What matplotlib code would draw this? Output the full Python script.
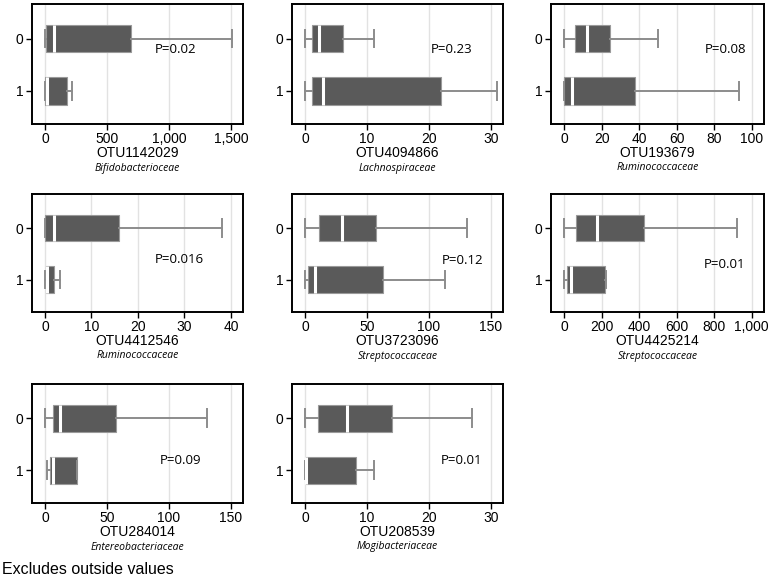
import matplotlib
matplotlib.use("Agg")
import matplotlib.pyplot as plt
from matplotlib.ticker import FuncFormatter

# Datos de cada panel (grupo 0, grupo 1): whislo, q1, med, q3, whishi
otus = ["OTU1142029", "OTU4094866", "OTU193679", "OTU4412546",
        "OTU3723096", "OTU4425214", "OTU284014", "OTU208539"]
families = ["Bifidobacterioceae", "Lachnospiraceae", "Ruminococcaceae", "Ruminococcaceae",
            "Streptococcaceae", "Streptococcaceae", "Entereobacteriaceae", "Mogibacteriaceae"]
p_values = ["P=0.02", "P=0.23", "P=0.08", "P=0.016", "P=0.12", "P=0.01", "P=0.09", "P=0.01"]
p_pos = [(1050, 0.21), (23.6, 0.21), (86, 0.21), (28.8, 0.62),
         (127, 0.64), (857, 0.70), (109, 0.81), (25.2, 0.82)]
tick_max = [1500, 30, 100, 40, 150, 1000, 150, 30]
tick_step = [500, 10, 20, 10, 50, 200, 50, 10]

whislo0 = [0, 0, 0, 0, 0, 0, 0, 0]
q1_0 = [5, 1.1, 5.9, 0, 11.3, 63, 6.2, 2.15]
med0 = [75, 2.2, 12.2, 2.0, 29.5, 175, 12, 6.7]
q3_0 = [690, 6.2, 24.7, 16, 57, 423, 57, 14.1]
whishi0 = [1510, 11.1, 50, 38, 131, 919, 131, 27]

whislo1 = [0, 0, 0, 0, 0, 0, 2, 0]
q1_1 = [3, 1.1, 0, 0.2, 2.2, 14, 4, 0.15]
med1 = [15, 2.9, 4.1, 0.5, 8, 36, 6.7, 0.1]
q3_1 = [175, 22, 38, 2.0, 62.6, 220, 25.5, 8.2]
whishi1 = [220, 31, 93, 3.2, 113, 222, 25.5, 11.1]

W, H = 771, 581
fig = plt.figure(figsize=(W / 100, H / 100), dpi=100)

# posiciones de los ejes en pixeles (izquierda, arriba, ancho, alto)
cols = [(32, 211), (292, 211), (551, 213)]
rows = [(4, 120), (194, 118), (384, 119)]

for i in range(8):
    x0, w = cols[i % 3]
    y0, h = rows[i // 3]
    ax = fig.add_axes([x0 / W, 1 - (y0 + h) / H, w / W, h / H])

    stats = [
        dict(whislo=whislo0[i], q1=q1_0[i], med=med0[i], q3=q3_0[i], whishi=whishi0[i], fliers=[]),
        dict(whislo=whislo1[i], q1=q1_1[i], med=med1[i], q3=q3_1[i], whishi=whishi1[i], fliers=[]),
    ]
    ax.bxp(stats, positions=[0, 1], widths=0.52, orientation="horizontal",
           patch_artist=True, showfliers=False, capwidths=0.34,
           boxprops=dict(facecolor="#5a5a5a", edgecolor="#9a9a9a", linewidth=0.8),
           medianprops=dict(color="white", linewidth=2.2),
           whiskerprops=dict(color="#8c8c8c", linewidth=1.4),
           capprops=dict(color="#8c8c8c", linewidth=1.4))

    m = tick_max[i]
    ax.set_xlim(-0.07 * m, 1.065 * m)
    ax.set_ylim(1.63, -0.66)
    ax.set_xticks(range(0, m + 1, tick_step[i]))
    ax.xaxis.set_major_formatter(FuncFormatter(lambda v, p: f"{int(v):,}"))
    ax.set_yticks([0, 1])
    ax.set_yticklabels(["0", "1"])
    ax.grid(axis="x", color="#e2e2e2", linewidth=1.0)
    ax.set_axisbelow(True)
    for s in ax.spines.values():
        s.set_linewidth(1.4)
    ax.tick_params(labelsize=10, length=4, width=1, pad=2)
    for lbl in ax.get_xticklabels() + ax.get_yticklabels():
        lbl.set_family("Liberation Sans")

    ax.text(p_pos[i][0], p_pos[i][1], p_values[i], ha="center", va="center",
            fontsize=9.5, family="Open Sans")
    ax.annotate(otus[i], xy=(0.5, 0), xycoords="axes fraction", xytext=(0, -29),
                textcoords="offset pixels", ha="center", va="center",
                fontsize=10, family="Liberation Sans")
    ax.annotate(families[i], xy=(0.5, 0), xycoords="axes fraction", xytext=(0, -44),
                textcoords="offset pixels", ha="center", va="center",
                fontsize=7.5, family="Open Sans", style="italic")

fig.text(2 / W, 1 - 570 / H, "Excludes outside values", ha="left", va="center",
         fontsize=11.5, family="Liberation Sans")

plt.savefig("out.png", dpi=100)
